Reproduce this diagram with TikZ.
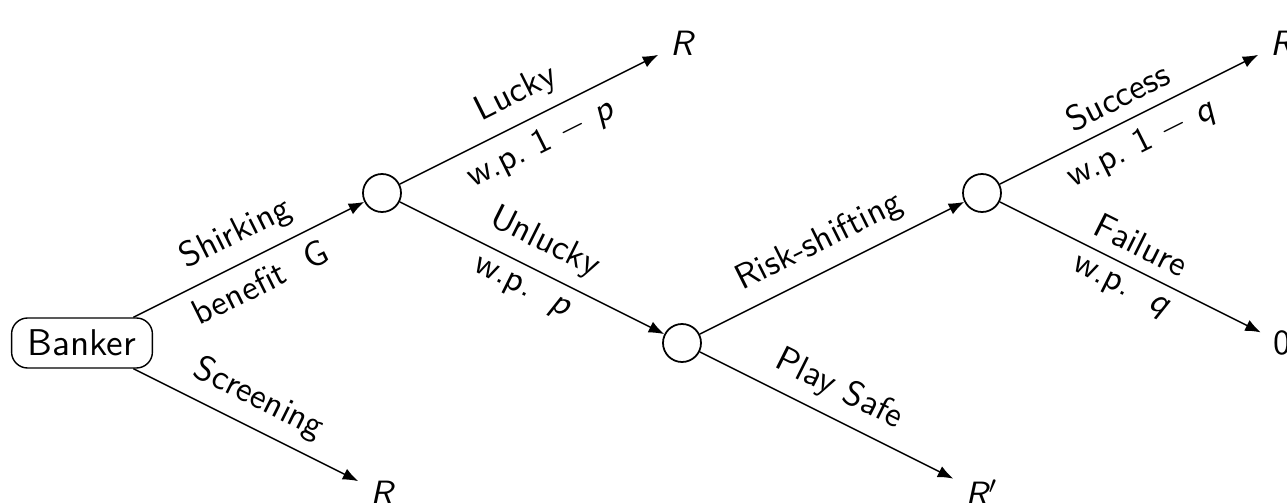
\documentclass[tikz,border=0pt]{standalone}
\usetikzlibrary{arrows.meta}
\begin{document}
\begin{tikzpicture}[font=\sffamily,
  chance/.style={draw,circle,minimum size=0.38cm,inner sep=0pt,line width=0.5pt},
  player/.style={draw,rounded corners=1.6mm,inner xsep=4.6pt,minimum height=0.5cm,font=\sffamily\fontsize{10.6}{12}\selectfont},
  term/.style={inner sep=3.33pt},
  edge/.style={draw,-{Latex[length=4.4pt,width=3.4pt]}},
  lab/.style={sloped,midway}]
\useasboundingbox (-0.82,-1.59) rectangle (12.05,3.43);
\node[player] (banker) at (0,0) {Banker};
\node[chance] (c1) at (3,1.5) {};
\node[chance] (c2) at (6,0) {};
\node[chance] (c3) at (9,1.5) {};
\node[term] (r1) at (6,3) {\itshape R};
\node[term] (r2) at (12,3) {\itshape R};
\node[term] (z) at (12,0) {0};
\node[term] (rp) at (9,-1.5) {\itshape R$'$};
\node[term] (rb) at (3,-1.5) {\itshape R};
\draw[edge] (banker) -- node[lab,above] {Shirking} node[lab,below] {benefit\ \ G} (c1);
\draw[edge] (banker) -- node[lab,above] {Screening} (rb);
\draw[edge] (c1) -- node[lab,above] {Lucky} node[lab,below] {w.p.\ 1 $-$ \textit{p}} (r1);
\draw[edge] (c1) -- node[lab,above] {Unlucky} node[lab,below] {w.p.\ \ \textit{p}} (c2);
\draw[edge] (c2) -- node[lab,above] {Risk-shifting} (c3);
\draw[edge] (c2) -- node[lab,above] {Play Safe} (rp);
\draw[edge] (c3) -- node[lab,above] {Success} node[lab,below] {w.p.\ 1 $-$ \textit{q}} (r2);
\draw[edge] (c3) -- node[lab,above] {Failure} node[lab,below] {w.p.\ \ \textit{q}} (z);
\end{tikzpicture}
\end{document}
